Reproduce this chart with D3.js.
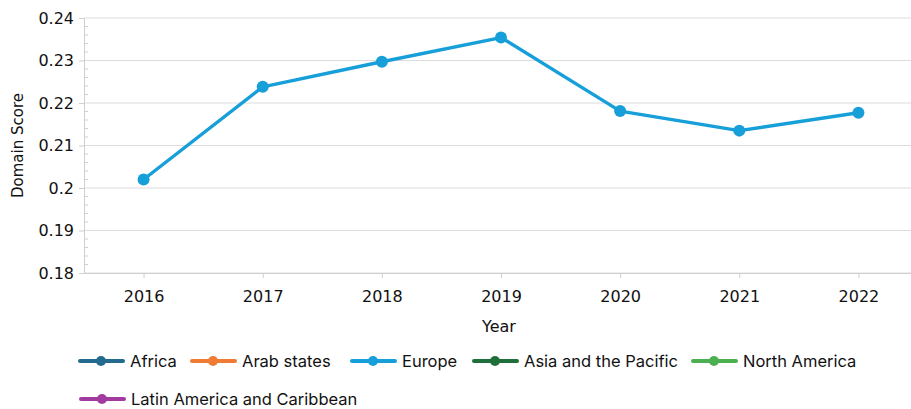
<!DOCTYPE html>
<html>
<head>
<meta charset="utf-8">
<script src="https://cdn.jsdelivr.net/npm/d3@7"></script>
<style>
  body { margin: 0; background: #fff; }
  svg text { fill: #111; }
</style>
</head>
<body>
<svg id="chart" width="911" height="409"></svg>
<script>
// data
const years = ["2016", "2017", "2018", "2019", "2020", "2021", "2022"];
const europe = [0.2020, 0.2238, 0.2297, 0.2354, 0.2181, 0.2135, 0.2177];
const yTicks = [0.18, 0.19, 0.2, 0.21, 0.22, 0.23, 0.24];
const legendNames = ["Africa", "Arab states", "Europe", "Asia and the Pacific", "North America", "Latin America and Caribbean"];
const legendColors = ["#236a8e", "#f07b35", "#179fd9", "#1f6f3b", "#4caf50", "#a23a9f"];

const svg = d3.select("#chart");
const plotL = 84, plotR = 918, plotT = 18, plotB = 273;
const axisFont = "DejaVu Sans, Verdana, sans-serif";

const x = d3.scalePoint().domain(years).range([plotL, plotR]).padding(0.5);
const y = d3.scaleLinear().domain([0.18, 0.24]).range([plotB, plotT]);

// grid lines
svg.append("g")
  .selectAll("line")
  .data(yTicks)
  .join("line")
  .attr("x1", plotL).attr("x2", 911)
  .attr("y1", d => y(d)).attr("y2", d => y(d))
  .attr("stroke", "#dcdcdc").attr("stroke-width", 1);

// y axis
const yAxis = svg.append("g")
  .attr("transform", `translate(${plotL},0)`)
  .call(d3.axisLeft(y).tickValues(yTicks).tickSize(5).tickFormat(d => String(+d.toFixed(2))));
yAxis.select(".domain").attr("stroke", "#cfcfcf");
yAxis.selectAll(".tick line").attr("stroke", "#cfcfcf");
yAxis.selectAll("text")
  .attr("x", -10)
  .style("font-family", axisFont)
  .style("font-size", "16px");

// minor ticks on the inside
const minor = d3.range(0.182, 0.24, 0.002).filter(v => Math.abs(v * 100 - Math.round(v * 100)) > 1e-6);
svg.append("g")
  .selectAll("line")
  .data(minor)
  .join("line")
  .attr("x1", plotL).attr("x2", plotL + 4)
  .attr("y1", d => y(d)).attr("y2", d => y(d))
  .attr("stroke", "#cfcfcf");

// x axis
const xAxis = svg.append("g")
  .attr("transform", `translate(0,${plotB})`)
  .call(d3.axisBottom(x).tickSize(5).tickPadding(13));
xAxis.select(".domain").attr("stroke", "#cfcfcf").attr("d", `M${plotL},0.5H911`);
xAxis.selectAll(".tick line").attr("stroke", "#cfcfcf");
xAxis.selectAll("text")
  .style("font-family", axisFont)
  .style("font-size", "16px");

// axis titles
svg.append("text")
  .attr("x", (plotL + plotR) / 2 - 2).attr("y", 332)
  .attr("text-anchor", "middle")
  .style("font-family", axisFont)
  .style("font-size", "16px")
  .text("Year");

svg.append("text")
  .attr("transform", `translate(23,${(plotT + plotB) / 2}) rotate(-90)`)
  .attr("text-anchor", "middle")
  .style("font-family", axisFont)
  .style("font-size", "15px")
  .text("Domain Score");

// europe series
const line = d3.line().x((d, i) => x(years[i])).y(d => y(d));
svg.append("path")
  .datum(europe)
  .attr("fill", "none")
  .attr("stroke", legendColors[2])
  .attr("stroke-width", 3.4)
  .attr("stroke-linejoin", "round")
  .attr("d", line);

svg.append("g")
  .selectAll("circle")
  .data(europe)
  .join("circle")
  .attr("cx", (d, i) => x(years[i]))
  .attr("cy", d => y(d))
  .attr("r", 6)
  .attr("fill", legendColors[2]);

// legend
const legendPos = [[80, 361], [192, 361], [352, 361], [474, 361], [693, 361], [81, 399]];
const leg = svg.append("g")
  .selectAll("g")
  .data(legendNames)
  .join("g")
  .attr("transform", (d, i) => `translate(${legendPos[i][0]},${legendPos[i][1]})`);
leg.append("line")
  .attr("x1", 0).attr("x2", 43)
  .attr("stroke", (d, i) => legendColors[i])
  .attr("stroke-width", 4)
  .attr("stroke-linecap", "round");
leg.append("circle")
  .attr("cx", 21).attr("r", 5)
  .attr("fill", (d, i) => legendColors[i]);
leg.append("text")
  .attr("x", 50).attr("dy", "0.35em")
  .style("font-family", "Inter, Lato, sans-serif")
  .style("font-size", "16.5px")
  .text(d => d);
</script>
</body>
</html>
